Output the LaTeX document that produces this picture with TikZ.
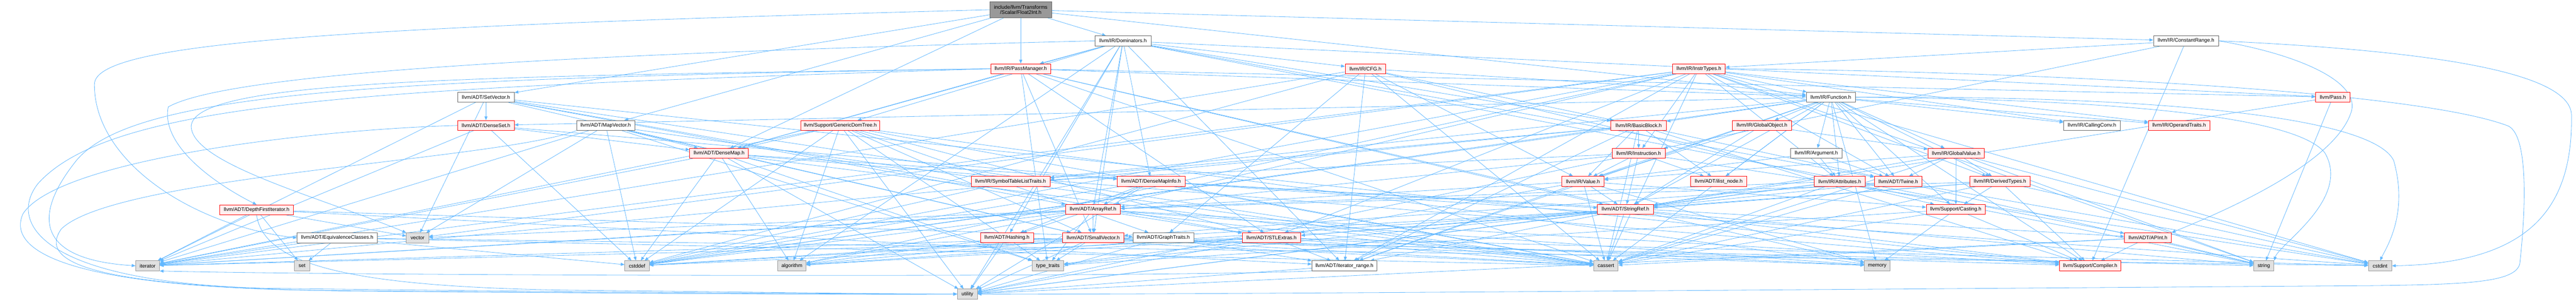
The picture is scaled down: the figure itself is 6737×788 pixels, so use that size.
\documentclass[tikz,border=0pt]{standalone}
\usepackage{fontspec}
\setmainfont{Liberation Sans}
\usetikzlibrary{arrows.meta}
\definecolor{edgec}{HTML}{63B8FF}
\definecolor{redfill}{HTML}{FFF0F0}
\definecolor{greyfill}{HTML}{E0E0E0}
\definecolor{greydraw}{HTML}{999999}
\definecolor{darkdraw}{HTML}{666666}
\definecolor{rootfill}{HTML}{999999}
\pgfdeclarelayer{bg}
\pgfsetlayers{bg,main}
\begin{document}
\begin{tikzpicture}[x=1pt,y=1pt,
  box/.style={font=\fontsize{13.3}{14.5}\selectfont, inner sep=0pt, minimum height=26pt, line width=1.2pt},
  rn/.style={box, draw=red, fill=redfill},
  wn/.style={box, draw=darkdraw, fill=white},
  sn/.style={box, draw=greydraw, fill=greyfill},
  root/.style={box, draw=darkdraw, fill=rootfill, align=center},
  e/.style={draw=edgec, line width=1.1pt, -{Triangle[length=10pt,width=8pt]}},
]
\useasboundingbox (0,0) rectangle (6737,-788);
% row 0
\node[root, minimum width=161pt, minimum height=41pt] (F2I) at (2669.5,-25.5) {include/llvm/Transforms\\/Scalar/Float2Int.h};
% row 1
\node[wn, minimum width=146pt] (Dom) at (2937,-107) {llvm/IR/Dominators.h};
\node[wn, minimum width=170pt] (CR) at (5717,-107) {llvm/IR/ConstantRange.h};
% row 2
\node[rn, minimum width=157pt] (PM) at (2669.5,-180) {llvm/IR/PassManager.h};
\node[rn, minimum width=106pt] (CFG) at (3571,-180) {llvm/IR/CFG.h};
\node[rn, minimum width=138pt] (InstrT) at (4443,-180) {llvm/IR/InstrTypes.h};
% row 3
\node[wn, minimum width=148pt] (SetV) at (1271,-254.5) {llvm/ADT/SetVector.h};
\node[wn, minimum width=128pt] (Func) at (4788,-254.5) {llvm/IR/Function.h};
\node[rn, minimum width=90pt] (Pass) at (6101,-254.5) {llvm/Pass.h};
% row 4
\node[rn, minimum width=148pt] (DSet) at (1271,-328.5) {llvm/ADT/DenseSet.h};
\node[wn, minimum width=152pt] (MapV) at (1584,-328.5) {llvm/ADT/MapVector.h};
\node[rn, minimum width=207pt] (GDT) at (2197.5,-328.5) {llvm/Support/GenericDomTree.h};
\node[rn, minimum width=145pt] (BB) at (4285.5,-328.5) {llvm/IR/BasicBlock.h};
\node[rn, minimum width=154pt] (GObj) at (4608,-328.5) {llvm/IR/GlobalObject.h};
\node[wn, minimum width=148pt] (CC) at (5471,-328.5) {llvm/IR/CallingConv.h};
\node[rn, minimum width=160pt] (OpT) at (5699,-328.5) {llvm/IR/OperandTraits.h};
% row 5
\node[rn, minimum width=153pt] (DMap) at (1880.5,-401.5) {llvm/ADT/DenseMap.h};
\node[rn, minimum width=139pt] (Inst) at (4285.5,-401.5) {llvm/IR/Instruction.h};
\node[wn, minimum width=134pt] (Arg) at (4750,-401.5) {llvm/IR/Argument.h};
\node[rn, minimum width=148pt] (GVal) at (5116,-401.5) {llvm/IR/GlobalValue.h};
% row 6
\node[rn, minimum width=206pt] (STLT) at (2643,-475) {llvm/IR/SymbolTableListTraits.h};
\node[rn, minimum width=177pt] (DMI) at (3010.5,-475) {llvm/ADT/DenseMapInfo.h};
\node[rn, minimum width=110pt] (Val) at (4140,-475) {llvm/IR/Value.h};
\node[rn, minimum width=146pt] (ilist) at (4495,-475) {llvm/ADT/ilist\_node.h};
\node[rn, minimum width=133pt] (Attr) at (4811.5,-475) {llvm/IR/Attributes.h};
\node[rn, minimum width=125pt] (Twine) at (4964.5,-475) {llvm/ADT/Twine.h};
\node[rn, minimum width=157pt] (DerT) at (5230.5,-475) {llvm/IR/DerivedTypes.h};
% row 7
\node[rn, minimum width=192pt] (DFI) at (671,-549.5) {llvm/ADT/DepthFirstIterator.h};
\node[rn, minimum width=143pt] (ARef) at (2858.5,-548.5) {llvm/ADT/ArrayRef.h};
\node[rn, minimum width=146pt] (SRef) at (4251,-548.5) {llvm/ADT/StringRef.h};
\node[rn, minimum width=154pt] (Cast) at (5115,-548.5) {llvm/Support/Casting.h};
% row 8
\node[wn, minimum width=210pt] (EqC) at (882,-623) {llvm/ADT/EquivalenceClasses.h};
\node[sn, minimum width=58pt] (vector) at (1092,-623) {vector};
\node[rn, minimum width=139pt] (Hash) at (2633.5,-622.5) {llvm/ADT/Hashing.h};
\node[rn, minimum width=160pt] (SVec) at (2859,-622.5) {llvm/ADT/SmallVector.h};
\node[wn, minimum width=159pt] (GTr) at (3042.5,-622.5) {llvm/ADT/GraphTraits.h};
\node[rn, minimum width=153pt] (STLE) at (3325.5,-622.5) {llvm/ADT/STLExtras.h};
\node[rn, minimum width=123pt] (APInt) at (5617.5,-622.5) {llvm/ADT/APInt.h};
% row 9
\node[sn, minimum width=62pt] (iterator) at (386,-696) {iterator};
\node[sn, minimum width=40pt] (set) at (790,-696) {set};
\node[sn, minimum width=64pt] (cstddef) at (1666,-696) {cstddef};
\node[sn, minimum width=74pt] (algorithm) at (2071,-696) {algorithm};
\node[sn, minimum width=83pt] (typetraits) at (2740.5,-696) {type\_traits};
\node[wn, minimum width=170pt] (itrange) at (3516,-696) {llvm/ADT/iterator\_range.h};
\node[sn, minimum width=64pt] (cassert) at (4200,-696) {cassert};
\node[sn, minimum width=67pt] (memory) at (4909.5,-696) {memory};
\node[rn, minimum width=161pt] (Compiler) at (5466.5,-696) {llvm/Support/Compiler.h};
\node[sn, minimum width=53pt] (string) at (5920.5,-696) {string};
\node[sn, minimum width=61pt] (cstdint) at (6224.5,-696) {cstdint};
% row 10
\node[sn, minimum width=52pt] (utility) at (2530,-770) {utility};

\begin{pgfonlayer}{bg}
\foreach \t in {MapV,SetV,DMap,CR,Dom,PM,Func} \draw[e] (F2I) -- (\t);
\foreach \t in {APInt,ARef,DMap,DMI,Hash,SVec,Twine,itrange,BB,CFG,PM,Pass,GDT,algorithm,utility} \draw[e] (Dom) -- (\t);
\foreach \t in {InstrT,Inst,Compiler} \draw[e] (CR) -- (\t);
\foreach \t in {DMap,STLE,SVec,SRef,Func,Pass,cassert,memory,typetraits} \draw[e] (PM) -- (\t);
\foreach \t in {GTr,itrange,BB,Func,Val,Cast,cassert,cstddef,iterator} \draw[e] (CFG) -- (\t);
\foreach \t in {ARef,STLE,Twine,itrange,Attr,CC,DerT,Func,Inst,OpT,algorithm,cassert,cstddef,cstdint,iterator,string,vector} \draw[e] (InstrT) -- (\t);
\foreach \t in {ARef,DSet,STLE,SVec,Compiler,cassert,iterator,vector} \draw[e] (SetV) -- (\t);
\foreach \t in {DSet,SRef,Twine,ilist,itrange,Arg,Attr,BB,CC,DerT,GObj,GVal,OpT,STLT,Val,Cast,Compiler,cassert,cstddef,memory} \draw[e] (Func) -- (\t);
\foreach \t in {SRef,string} \draw[e] (Pass) -- (\t);
\foreach \t in {DMap,DMI,cstddef,iterator} \draw[e] (DSet) -- (\t);
\foreach \t in {DMap,SVec,cassert,cstddef,iterator,typetraits,vector} \draw[e] (MapV) -- (\t);
\foreach \t in {DMap,GTr,STLE,SVec,algorithm,cassert,cstddef,iterator,memory,typetraits,utility} \draw[e] (GDT) -- (\t);
\foreach \t in {Twine,ilist,itrange,Inst,STLT,Val,Compiler,cassert,cstddef,iterator} \draw[e] (BB) -- (\t);
\foreach \t in {SRef,GVal,Val} \draw[e] (GObj) -- (\t);
\foreach \t in {DMI,Compiler,algorithm,cassert,cstddef,iterator,typetraits,utility} \draw[e] (DMap) -- (\t);
\foreach \t in {ARef,SRef,ilist,STLT,Val,cstdint,utility} \draw[e] (Inst) -- (\t);
\foreach \t in {Twine,Attr,Val} \draw[e] (Arg) -- (\t);
\foreach \t in {SRef,Twine,DerT,Val,Cast,cassert,cstdint,string} \draw[e] (GVal) -- (\t);
\draw[e] (STLT) -- (cstddef);
\foreach \t in {APInt,ARef,Hash,SRef,cassert,cstddef,cstdint,utility} \draw[e] (DMI) -- (\t);
\foreach \t in {STLE,SRef,itrange,Cast,cassert,iterator,memory} \draw[e] (Val) -- (\t);
\foreach \t in {ARef,SRef,cassert,string,utility} \draw[e] (Attr) -- (\t);
\foreach \t in {SVec,SRef,cassert,cstdint,string} \draw[e] (Twine) -- (\t);
\foreach \t in {ARef,STLE,SRef,Cast,Compiler,cassert,cstdint} \draw[e] (DerT) -- (\t);
\foreach \t in {GTr,itrange,iterator,set,vector} \draw[e] (DFI) -- (\t);
\foreach \t in {Hash,STLE,SVec,Compiler,algorithm,cassert,cstddef,iterator,memory,typetraits,vector} \draw[e] (ARef) -- (\t);
\foreach \t in {STLE,itrange,Compiler,algorithm,cassert,cstddef,string,typetraits,utility} \draw[e] (SRef) -- (\t);
\foreach \t in {Compiler,cassert,memory,typetraits} \draw[e] (Cast) -- (\t);
\foreach \t in {cassert,cstddef,cstdint,iterator,set} \draw[e] (EqC) -- (\t);
\foreach \t in {algorithm,cassert,string,utility} \draw[e] (Hash) -- (\t);
\foreach \t in {Compiler,algorithm,cassert,cstddef,iterator,memory,typetraits,utility} \draw[e] (SVec) -- (\t);
\foreach \t in {itrange,utility} \draw[e] (GTr) -- (\t);
\foreach \t in {itrange,algorithm,cassert,cstddef,cstdint,iterator,memory,typetraits,utility} \draw[e] (STLE) -- (\t);
\foreach \t in {Compiler,cassert,string,utility} \draw[e] (APInt) -- (\t);
\draw[e] (itrange.south west) .. controls (3000,-728) and (900,-722) .. (iterator.south east);
\draw[e] (itrange) -- (utility);
% routed edges: left side
\draw[e] (F2I.west) .. controls (900,-70) and (250,-110) .. (247,-220) .. controls (245,-420) and (500,-590) .. (EqC.west);
\draw[e] (Dom.west) .. controls (1500,-140) and (600,-190) .. (440,-280) .. controls (420,-380) and (560,-480) .. (DFI.north);
\draw[e] (PM.west) .. controls (1200,-200) and (510,-210) .. (500,-330) .. controls (500,-430) and (850,-520) .. (vector.north west);
\draw[e] (PM.west) .. controls (1000,-205) and (350,-240) .. (200,-420) .. controls (80,-570) and (100,-680) .. (iterator.west);
\draw[e] (PM.west) .. controls (1000,-230) and (300,-260) .. (100,-480) .. controls (20,-580) and (100,-740) .. (700,-755) .. controls (1500,-765) and (2300,-770) .. (utility.west);
\draw[e] (DSet.west) .. controls (800,-340) and (150,-420) .. (60,-560) .. controls (20,-650) and (150,-748) .. (800,-760) .. controls (1600,-768) and (2300,-772) .. (utility.west);
\draw[e] (MapV.south west) .. controls (1300,-420) and (300,-460) .. (160,-600) .. controls (90,-700) and (300,-752) .. (900,-762) .. controls (1600,-768) and (2300,-772) .. (utility.west);
\draw[e] (DFI.south) .. controls (690,-690) and (900,-752) .. (1500,-760) .. controls (2000,-765) and (2300,-770) .. (utility.west);
% routed edges: right side
\draw[e] (CR.east) .. controls (6300,-130) and (6720,-180) .. (6725,-300) .. controls (6730,-560) and (6600,-690) .. (cstdint.east);
\draw[e] (CR.east) .. controls (6000,-140) and (6170,-210) .. (6150,-290) .. controls (6110,-430) and (5800,-560) .. (APInt.north east);
\draw[e] (InstrT.east) .. controls (5200,-185) and (6300,-230) .. (6560,-330) .. controls (6620,-360) and (6600,-600) .. (6590,-690) .. controls (6580,-740) and (6450,-745) .. (6200,-748) .. controls (4500,-760) and (3000,-772) .. (utility.east);
\draw[e] (Func.east) .. controls (5500,-260) and (6000,-300) .. (6080,-400) .. controls (6150,-520) and (5960,-640) .. (string.north east);
\draw[e] (Func.east) .. controls (5600,-250) and (6200,-300) .. (6260,-420) .. controls (6300,-560) and (6240,-650) .. (cstdint.north);
\end{pgfonlayer}
\end{tikzpicture}
\end{document}
